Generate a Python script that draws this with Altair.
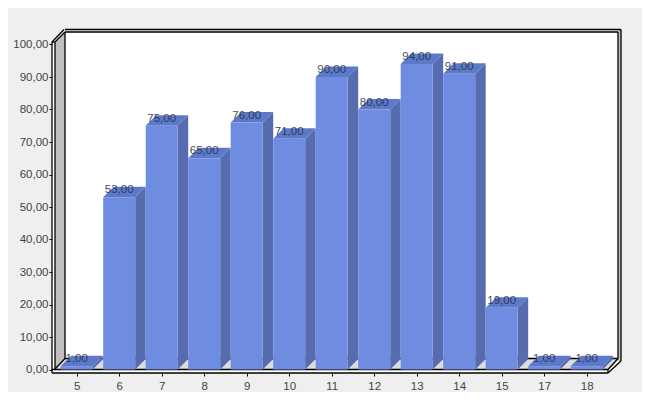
import altair as alt
import pandas as pd

categories = ["5", "6", "7", "8", "9", "10", "11", "12", "13", "14", "15", "17", "18"]
values = [1, 53, 75, 65, 76, 71, 90, 80, 94, 91, 19, 1, 1]
y_ticks = [0, 10, 20, 30, 40, 50, 60, 70, 80, 90, 100]

FRONT, TOP, SIDE = "#6f8de0", "#5d79c9", "#566cae"
BG, WALL, FLOOR = "#efefef", "#c0c0c0", "#dcdcdc"
FONT = "Liberation Sans"

# scale constants: pixels per category and per value unit
XU, YU = 42.5, 3.25
def px(p): return (p - 76.7) / XU
def py(p): return (369.5 - p) / YU

W, H = 634, 384
xs = alt.Scale(domain=[px(8), px(8 + W)], range=[0, W], nice=False, zero=False)
ys = alt.Scale(domain=[py(8 + H), py(8)], range=[H, 0], nice=False, zero=False)
HALF = 16 / XU
DX, DY = 10.5 / XU, 10.5 / YU

idx = list(range(len(categories)))
bars = pd.DataFrame({"i": idx, "v": values})
bars["x0"] = bars.i - HALF
bars["x1"] = bars.i + HALF
bars["b"] = 0

side = []
top = []
for i, v in zip(idx, values):
    side.append(dict(i=i, x=i + HALF, y=0, y2=v))
    side.append(dict(i=i, x=i + HALF + DX, y=DY, y2=v + DY))
    top.append(dict(i=i, y=v, x=i - HALF, x2=i + HALF))
    top.append(dict(i=i, y=v + DY, x=i - HALF + DX, x2=i + HALF + DX))
side = pd.DataFrame(side)
top = pd.DataFrame(top)

X = lambda f: alt.X(f, type="quantitative", scale=xs, axis=None)
Y = lambda f: alt.Y(f, type="quantitative", scale=ys, axis=None)

def rects(rows, color):
    df = pd.DataFrame([dict(x=px(a), x2=px(b), y=py(c), y2=py(d)) for a, b, c, d in rows])
    return alt.Chart(df).mark_rect(color=color).encode(x=X("x"), x2="x2", y=Y("y"), y2="y2")

def segs(rows, width=1.3):
    df = pd.DataFrame([dict(x=px(a), y=py(b), x2=px(c), y2=py(d)) for a, b, c, d in rows])
    return alt.Chart(df).mark_rule(color="#000000", strokeWidth=width).encode(x=X("x"), x2="x2", y=Y("y"), y2="y2")

back = rects([(65, 619, 358, 32), (52, 55, 373, 42), (52, 608, 373, 369)], "#ffffff")
right_wall = rects([(618, 621, 361, 30)], WALL)

wall_df = pd.DataFrame([dict(x=px(55), y=py(369), y2=py(42)), dict(x=px(65), y=py(358.5), y2=py(32))])
wall = alt.Chart(wall_df).mark_area(color=WALL).encode(x=X("x"), y=Y("y"), y2="y2")
floor_df = pd.DataFrame([dict(y=py(369), x=px(55), x2=px(608)), dict(y=py(358.5), x=px(65), x2=px(618))])
floor = alt.Chart(floor_df).mark_area(color=FLOOR, orient="horizontal").encode(x=X("x"), x2="x2", y=Y("y"))

lines = segs([
    (65, 32, 618, 32), (65, 29.5, 621, 29.5), (65, 32, 65, 358.5), (65, 358.5, 618, 358.5),
    (618, 32, 618, 358.5), (621, 29.5, 621, 361),
    (52, 42, 52, 373), (55, 42, 55, 369), (52, 42, 55, 42),
    (52, 369.5, 608, 369.5), (52, 373, 608, 373), (608, 369.5, 608, 373),
    (52, 42, 64, 29.5), (55, 42, 65, 32),
    (55, 369, 65, 358.5), (608, 369.5, 618, 358.5), (608, 373, 621, 361),
])

side_m = alt.Chart(side).mark_area(color=SIDE).encode(x=X("x"), y=Y("y"), y2="y2", detail="i:N")
top_m = alt.Chart(top).mark_area(color=TOP, orient="horizontal").encode(x=X("x"), x2="x2", y=Y("y"), detail="i:N")
front = alt.Chart(bars).mark_rect(color=FRONT).encode(x=X("x0"), x2="x1", y=Y("b"), y2="v")

labels = alt.Chart(bars).transform_calculate(t="replace(format(datum.v, '.2f'), '.', ',')").mark_text(
    font=FONT, fontSize=11.5, color="#2a2f45", opacity=0.85, dy=-7, baseline="middle"
).encode(x=X("i"), y=Y("v"), text="t:N")

cat_expr = "[" + ",".join(f"'{c}'" for c in categories) + "][datum.value]"
axes = alt.Chart(bars).mark_point(opacity=0).encode(
    x=alt.X("i", type="quantitative", scale=xs, axis=alt.Axis(
        values=idx, labelExpr=cat_expr, title=None, domain=False, grid=False,
        offset=373 - (8 + H), zindex=1,
        tickSize=3, tickColor="#000000", labelColor="#444444", labelFont=FONT, labelFontSize=11.5,
        labelPadding=4, labelOverlap=False, labelFlush=False)),
    y=alt.Y("v", type="quantitative", scale=ys, axis=alt.Axis(
        values=y_ticks, labelExpr="replace(format(datum.value, '.2f'), '.', ',')", title=None,
        domain=False, grid=False, offset=8 - 52, zindex=1, tickSize=3, tickColor="#000000", labelColor="#444444",
        labelFont=FONT, labelFontSize=11.5, labelPadding=1, labelOverlap=False, labelFlush=False)),
)

chart = alt.layer(back, wall, floor, right_wall, lines, side_m, top_m, front, labels, axes).resolve_axis(
    x="independent", y="independent"
).properties(
    width=W, height=H, padding=0, autosize=alt.AutoSizeParams(type="none"),
    background=BG,
).configure_view(stroke=None)

chart.save("out.html", embed_options={"renderer": "svg", "actions": False})
